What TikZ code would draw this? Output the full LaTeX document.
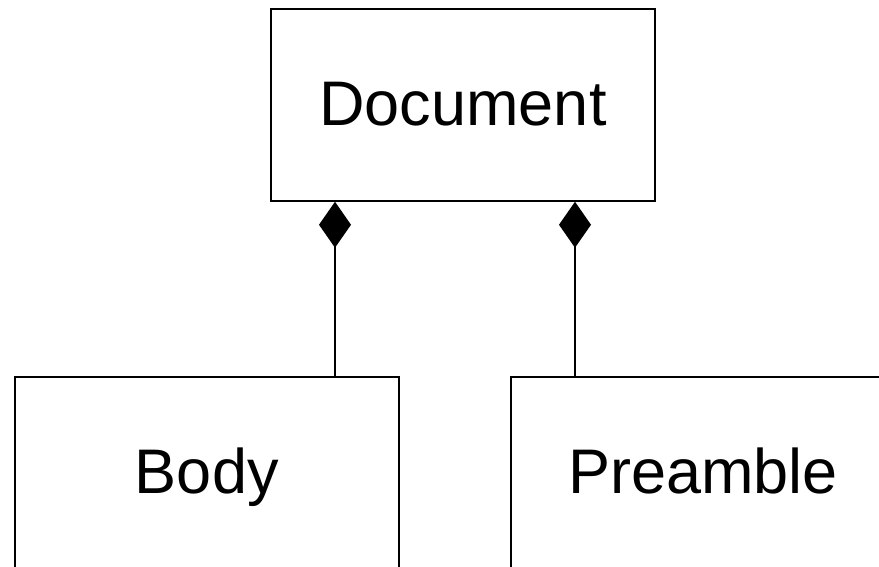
\documentclass[tikz,border=0pt]{standalone}
\usepackage{fontspec}
\setmainfont{Liberation Sans}
\usetikzlibrary{arrows.meta}
\begin{document}
\begin{tikzpicture}[x=1pt,y=-1pt,
  classbox/.style={draw=black, line width=1.5pt, rectangle, inner sep=0pt,
    minimum width=384pt, minimum height=192pt,
    text height=45pt, text depth=4pt,
    font=\fontsize{63}{75}\selectfont},
  compose/.style={draw=black, line width=1.5pt,
    -{Diamond[length=46pt,width=32pt,line width=0pt]}}]
\useasboundingbox (0,0) rectangle (879,566);
\node[classbox] (doc) at (463,105) {Document};
\node[classbox] (body) at (206.75,473) {Body};
\node[classbox] (pre) at (703,473) {Preamble};
\coordinate (bx) at (335,0);
\coordinate (px) at (575,0);
\draw[compose] (body.north -| bx) -- (doc.south -| bx);
\draw[compose] (pre.north -| px) -- (doc.south -| px);
\end{tikzpicture}
\end{document}
